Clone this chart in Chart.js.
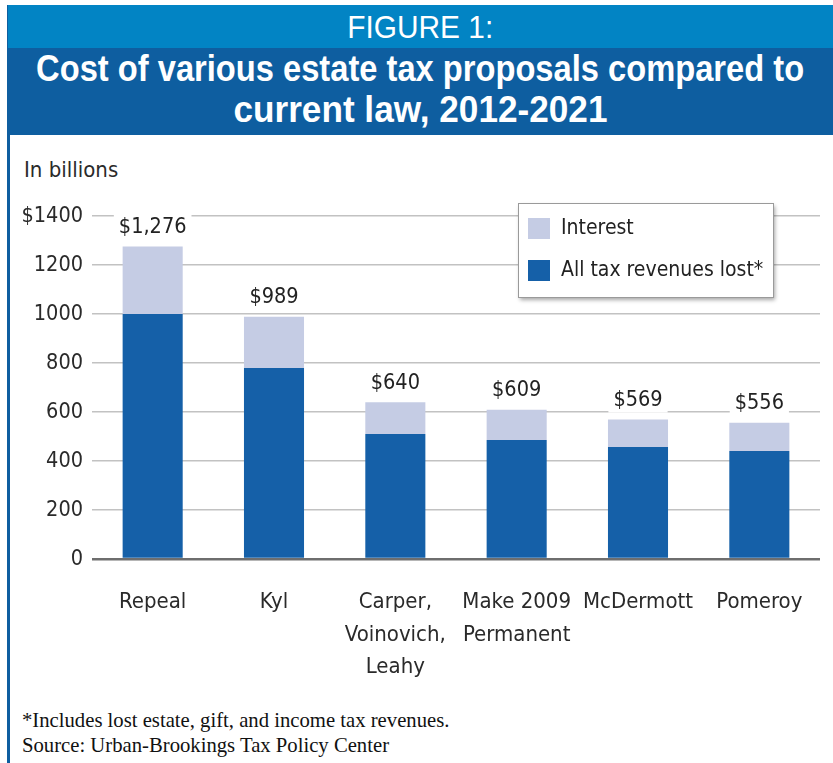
<!DOCTYPE html>
<html>
<head>
<meta charset="utf-8">
<title>Estate tax proposals</title>
<script src="https://cdn.jsdelivr.net/npm/chart.js@4.4.1/dist/chart.umd.min.js"></script>
<style>
  body { margin: 0; background: #fff; width: 833px; height: 763px; overflow: hidden; position: relative; }
  #frame { position: absolute; left: 7px; top: 5px; width: 3px; height: 758px; background: #0e5ea0; }
  #band1, #band2 {
    position: absolute; left: 8px; width: 825px; color: #fff;
    display: flex; flex-direction: column; align-items: center;
  }
  #band1 {
    top: 5px; height: 43px; background: #0284c4;
    font: 32px "Liberation Sans", Arial, sans-serif; line-height: 44px;
  }
  #band2 {
    top: 48px; height: 87px; background: #0e5ea0; padding-top: 0;
    font: bold 36px "Liberation Sans", Arial, sans-serif; line-height: 41px;
  }
  .fit { display: block; white-space: nowrap; transform-origin: center; flex: none; }
  #units {
    position: absolute; left: 24px; top: 159px; color: #2a2a2a;
    font: 22px "DejaVu Sans Condensed", sans-serif; line-height: 22px;
  }
  #wrap { position: absolute; left: 10px; top: 140px; width: 823px; height: 560px; }
  #note {
    position: absolute; left: 22px; top: 708px; color: #111;
    font: 20.7px "Liberation Serif", "Times New Roman", serif; line-height: 25px;
  }
</style>
</head>
<body>
<div id="frame"></div>
<div id="band1"><span class="fit" data-w="146">FIGURE 1:</span></div>
<div id="band2"><span class="fit" data-w="768">Cost of various estate tax proposals compared to</span><span class="fit" data-w="374">current law, 2012-2021</span></div>
<div id="units">In billions</div>
<div id="wrap"><canvas id="estateChart"></canvas></div>
<div id="note">*Includes lost estate, gift, and income tax revenues.<br>Source: Urban-Brookings Tax Policy Center</div>

<script>
const FONT = "'DejaVu Sans Condensed', sans-serif";

// cost per proposal, $ billions
const proposals = ["Repeal", "Kyl", ["Carper,", "Voinovich,", "Leahy"], ["Make 2009", "Permanent"], "McDermott", "Pomeroy"];
const totalCost = [1276, 989, 640, 609, 569, 556];
const revenuesLost = [1000, 780, 510, 486, 457, 441];
const interestCost = totalCost.map((t, i) => t - revenuesLost[i]);
const yTicks = [0, 200, 400, 600, 800, 1000, 1200, 1400];

// squeeze the header lines to their set widths
document.querySelectorAll(".fit").forEach(el => {
  const w = el.getBoundingClientRect().width;
  el.style.transform = "scaleX(" + (el.dataset.w / w) + ")";
});

// "$1,276" etc. over each stack, on a white patch so the grid stops behind it
const totalLabels = {
  id: "totalLabels",
  afterDatasetsDraw(chart) {
    const ctx = chart.ctx;
    const y = chart.scales.y;
    const bars = chart.getDatasetMeta(0).data;
    ctx.save();
    ctx.font = "21.5px " + FONT;
    ctx.textAlign = "center";
    ctx.textBaseline = "middle";
    totalCost.forEach((t, i) => {
      const cx = bars[i].x;
      const cy = y.getPixelForValue(t) - 20;
      const txt = "$" + t.toLocaleString("en-US");
      const tw = ctx.measureText(txt).width;
      ctx.fillStyle = "#fff";
      ctx.fillRect(cx - tw / 2 - 5, cy - 13, tw + 10, 26);
      ctx.fillStyle = "#222";
      ctx.fillText(txt, cx, cy + 1);
    });
    ctx.restore();
  }
};

// boxed legend inside the plot, top right
const boxLegend = {
  id: "boxLegend",
  afterDraw(chart) {
    const ctx = chart.ctx;
    const area = chart.chartArea;
    const x = area.right - 302, y = area.top - 13, w = 255, h = 94;
    ctx.save();
    ctx.shadowColor = "rgba(0,0,0,0.35)";
    ctx.shadowBlur = 4;
    ctx.shadowOffsetX = 2;
    ctx.shadowOffsetY = 3;
    ctx.fillStyle = "#fff";
    ctx.fillRect(x, y, w, h);
    ctx.shadowColor = "transparent";
    ctx.strokeStyle = "#9a9a9a";
    ctx.lineWidth = 1;
    ctx.strokeRect(x + 0.5, y + 0.5, w, h);

    ctx.font = "21px " + FONT;
    ctx.textBaseline = "middle";
    chart.data.datasets.slice().reverse().forEach((ds, i) => {
      const cy = y + 25 + i * 42;
      ctx.fillStyle = ds.backgroundColor;
      ctx.fillRect(x + 10, cy - 10, 22, 21);
      ctx.fillStyle = "#222";
      ctx.fillText(ds.label, x + 43, cy + 1);
    });
    ctx.restore();
  }
};

new Chart(document.getElementById("estateChart"), {
  type: "bar",
  data: {
    labels: proposals,
    datasets: [
      {
        label: "All tax revenues lost*",
        data: revenuesLost,
        backgroundColor: "#1560a8",
        borderWidth: 0
      },
      {
        label: "Interest",
        data: interestCost,
        backgroundColor: "#c5cce4",
        borderWidth: 0
      }
    ]
  },
  options: {
    responsive: true,
    maintainAspectRatio: false,
    animation: false,
    layout: { padding: { top: 76, right: 13, left: 0, bottom: 0 } },
    datasets: {
      bar: { barPercentage: 0.495, categoryPercentage: 1 }
    },
    plugins: {
      legend: { display: false },
      tooltip: { enabled: false }
    },
    scales: {
      x: {
        stacked: true,
        grid: { display: false },
        border: { display: false },
        afterFit(scale) { scale.height = 141; },
        ticks: {
          color: "#2a2a2a",
          padding: 19,
          maxRotation: 0,
          autoSkip: false,
          font: { family: FONT, size: 22, lineHeight: 1.48 }
        }
      },
      y: {
        stacked: true,
        min: 0,
        max: 1400,
        afterBuildTicks(scale) {
          scale.ticks = yTicks.map(v => ({ value: v }));
        },
        afterFit(scale) { scale.width = 82; },
        border: { display: false },
        grid: {
          drawTicks: false,
          color: c => (c.tick && c.tick.value === 0 ? "#6e6e6e" : "#c2c2c2"),
          lineWidth: c => (c.tick && c.tick.value === 0 ? 2.5 : 1.5)
        },
        ticks: {
          color: "#2a2a2a",
          padding: 9,
          font: { family: FONT, size: 21.5 },
          callback: v => (v === yTicks[yTicks.length - 1] ? "$" + v : v)
        }
      }
    }
  },
  plugins: [totalLabels, boxLegend]
});
</script>
</body>
</html>
